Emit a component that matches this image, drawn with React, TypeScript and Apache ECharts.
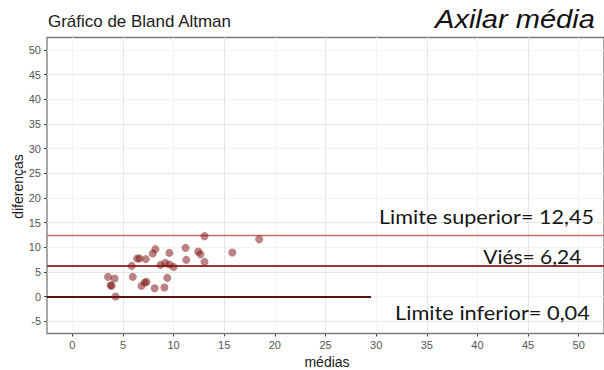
import React, { useEffect, useRef } from "react";
import * as echarts from "echarts";

// ---- data ----
const medias = [13.05, 18.45, 3.52, 4.17, 3.78, 3.88, 4.27, 5.87, 5.97, 6.4, 6.63, 7.25, 7.94, 8.2, 6.83, 7.15, 7.32, 8.13, 9.09, 9.38, 8.72, 9.18, 9.58, 10.0, 9.58, 11.18, 11.25, 12.43, 12.65, 13.05, 15.8];
const diferencas = [12.23, 11.62, 3.98, 3.65, 2.29, 2.15, 0.0, 6.21, 3.98, 7.7, 7.7, 7.57, 8.72, 9.6, 2.15, 2.84, 2.97, 1.68, 1.83, 3.77, 6.41, 6.82, 6.49, 6.0, 8.85, 9.86, 7.43, 9.12, 8.58, 7.02, 8.92];
const limiteSuperior = 12.45;
const vies = 6.24;
const limiteInferior = 0.04;
const limiteInferiorExtent = [-2.5, 29.5]; // visible stretch of the lower line
const xTicks = [0, 5, 10, 15, 20, 25, 30, 35, 40, 45, 50];
const yTicks = [-5, 0, 5, 10, 15, 20, 25, 30, 35, 40, 45, 50];
const titleText = "Gráfico de Bland Altman";
const cornerText = "Axilar média";
const xName = "médias";
const yName = "diferenças";
const labelSup = "Limite superior= 12,45";
const labelVies = "Viés= 6,24";
const labelInf = "Limite inferior= 0,04";

const SANS = "Liberation Sans";
const OVER = "Lato";

function fit(text: string, font: string, target: number) {
  const c = document.createElement("canvas").getContext("2d");
  if (!c) return 1;
  c.font = font;
  const w = c.measureText(text).width;
  return w > 0 ? target / w : 1;
}

export default function App() {
  const ref = useRef<HTMLDivElement>(null);
  useEffect(() => {
    if (!ref.current) return;
    const chart = echarts.init(ref.current, undefined, { renderer: "svg" });
    const overSize = 18.5;
    const overFont = `${overSize}px "${OVER}"`;
    const cornerFont = `italic 26px "${SANS}"`;
    const titleFont = `16px "${SANS}"`;
    const overlay = (text: string, x: number, y: number, w: number) => ({
      type: "text",
      x,
      y,
      scaleX: fit(text, overFont, w),
      silent: true,
      z: 100,
      style: {
        text,
        fontSize: overSize,
        fontFamily: OVER,
        fill: "#151515",
        textAlign: "left",
        textVerticalAlign: "middle",
      },
    });
    const axisLabelStyle = { show: true, color: "#555555", fontSize: 11, fontFamily: SANS, margin: 6 };
    const option: any = {
      animation: false,
      textStyle: { color: "#555555", fontFamily: SANS },
      grid: {
        left: 47,
        top: 37.5,
        width: 560,
        height: 296,
        show: true,
        borderColor: "#7a7a7a",
        borderWidth: 1.3,
        backgroundColor: "transparent",
      },
      xAxis: {
        type: "value",
        min: -2.5,
        max: 52.5,
        interval: 2.5,
        axisLine: { show: false, onZero: false, lineStyle: { color: "#555555" } },
        axisTick: { show: true, customValues: xTicks, length: 3, lineStyle: { color: "#444", width: 1 } },
        axisLabel: { ...axisLabelStyle, customValues: xTicks },
        splitLine: { show: true, lineStyle: { color: ["#f3f3f3", "#e6e6e6"], width: 1 } },
      },
      yAxis: {
        type: "value",
        min: -7.5,
        max: 52.5,
        interval: 2.5,
        axisLine: { show: false, onZero: false, lineStyle: { color: "#555555" } },
        axisTick: { show: true, customValues: yTicks, length: 3, lineStyle: { color: "#444", width: 1 } },
        axisLabel: { ...axisLabelStyle, customValues: yTicks },
        splitLine: { show: true, lineStyle: { color: ["#e6e6e6", "#f3f3f3"], width: 1 } },
      },
      series: [
        {
          type: "scatter",
          data: medias.map((m, i) => [m, diferencas[i]]),
          symbolSize: 8,
          itemStyle: { color: "rgba(125,18,18,0.66)" },
          z: 5,
          markLine: {
            silent: true,
            symbol: "none",
            label: { show: false },
            data: [
              { yAxis: limiteSuperior, lineStyle: { color: "#c86a6a", width: 1.4, type: "solid" } },
              { yAxis: vies, lineStyle: { color: "#9b3333", width: 1.8, type: "solid" } },
              [
                { coord: [limiteInferiorExtent[0], limiteInferior], lineStyle: { color: "#541212", width: 1.8, type: "solid" } },
                { coord: [limiteInferiorExtent[1], limiteInferior] },
              ],
            ],
          },
        },
      ],
      graphic: [
        {
          type: "text",
          x: 48,
          y: 21.5,
          scaleX: fit(titleText, titleFont, 184),
          silent: true,
          style: { text: titleText, fontSize: 16, fontFamily: SANS, fill: "#1a1a1a", textAlign: "left", textVerticalAlign: "middle" },
        },
        {
          type: "text",
          x: 435,
          y: 19.5,
          scaleX: fit(cornerText, cornerFont, 160),
          silent: true,
          style: { text: cornerText, fontSize: 26, fontStyle: "italic", fontFamily: SANS, fill: "#111111", textAlign: "left", textVerticalAlign: "middle" },
        },
        {
          type: "text",
          x: 327,
          y: 361.5,
          silent: true,
          style: { text: xName, fontSize: 14, fontFamily: SANS, fill: "#1a1a1a", textAlign: "center", textVerticalAlign: "middle" },
        },
        {
          type: "text",
          x: 18,
          y: 186.5,
          rotation: Math.PI / 2,
          silent: true,
          style: { text: yName, fontSize: 14, fontFamily: SANS, fill: "#1a1a1a", textAlign: "center", textVerticalAlign: "middle" },
        },
        overlay(labelSup, 379, 216.7, 215),
        overlay(labelVies, 483.3, 256.7, 98),
        overlay(labelInf, 395, 312.5, 195),
      ],
    };
    chart.setOption(option);
    return () => chart.dispose();
  }, []);
  return (
    <div
      ref={ref}
      style={{ position: "absolute", left: 0, top: 0, width: 604, height: 370, background: "#ffffff" }}
    />
  );
}
